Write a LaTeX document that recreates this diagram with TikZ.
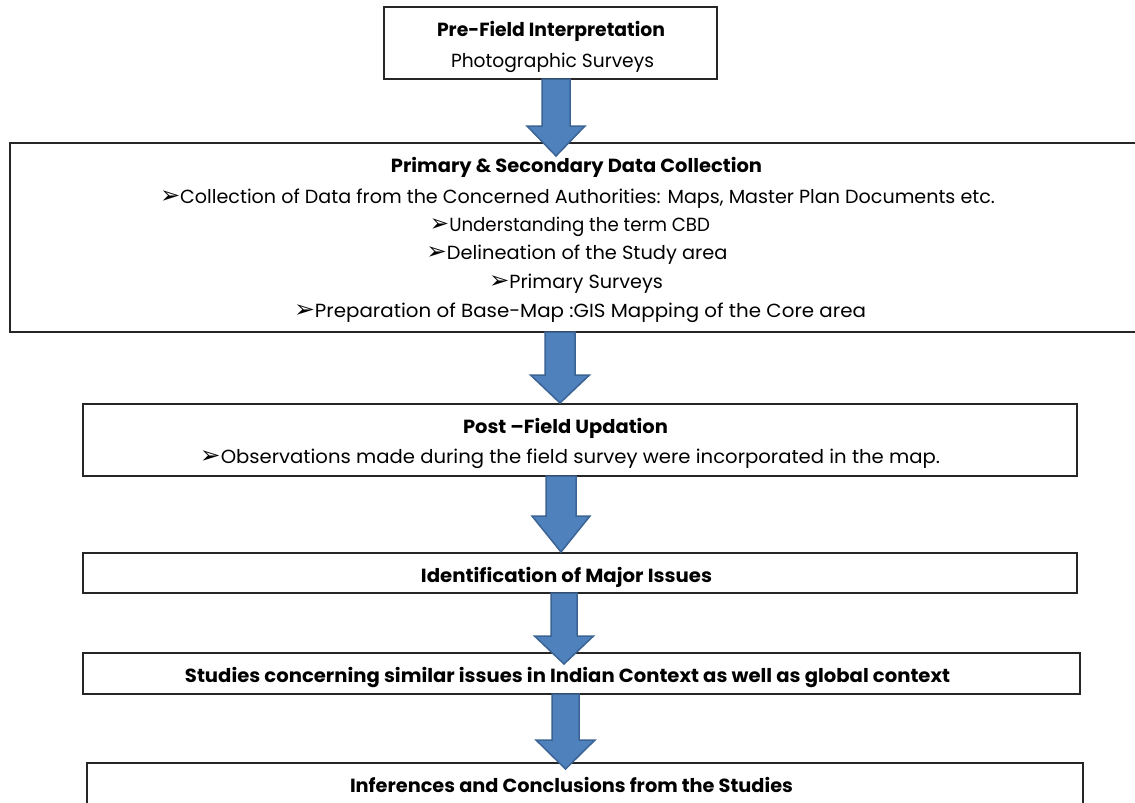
\documentclass[tikz,border=0pt]{standalone}
\usepackage{fontspec}
\usepackage{graphicx}
\setmainfont{Poppins}
\newfontfamily\dingfont{DejaVu Sans}
\usetikzlibrary{calc}
\definecolor{arrowfill}{HTML}{4F81BD}
\definecolor{arrowline}{HTML}{3B6495}
\definecolor{boxline}{HTML}{262626}
\newcommand{\fitw}[2]{\resizebox{#1pt}{\height}{#2}}
\newcommand{\bul}{{\dingfont\fontsize{24}{24}\selectfont\char"27A2}}
% #1 src, #2 dst, #3 cx, #4 half shaft, #5 half head, #6 head start rel. dst top, #7 tip rel. dst top
\newcommand{\blockarr}[7]{%
  \coordinate (tmpx) at (#3,0);
  \draw[barrow] ($(tmpx |- #1.south)+(-#4,0)$) -- ($(tmpx |- #1.south)+(#4,0)$)
    -- ($(tmpx |- #2.north)+(#4,#6)$) -- ($(tmpx |- #2.north)+(#5,#6)$)
    -- ($(tmpx |- #2.north)+(0,#7)$) -- ($(tmpx |- #2.north)+(-#5,#6)$)
    -- ($(tmpx |- #2.north)+(-#4,#6)$) -- cycle;}
\begin{document}
\begin{tikzpicture}[x=1pt,y=-1pt,
  box/.style={draw=boxline,line width=1.4pt,fill=white,anchor=north west,outer sep=0pt,inner sep=0pt},
  txt/.style={anchor=base,inner sep=0pt,font=\fontsize{19}{22}\selectfont},
  btxt/.style={anchor=base,inner sep=0pt,font=\fontsize{19}{22}\selectfont\bfseries},
  barrow/.style={fill=arrowfill,draw=arrowline,line width=1.5pt,line join=miter}]
\useasboundingbox (0,0) rectangle (1135,803);
\clip (0,0) rectangle (1135,803);
\fill[white] (0,0) rectangle (1135,803);
% boxes
\node[box,minimum width=333pt,minimum height=72pt] (b1) at (384,7) {};
\node[box,minimum width=1140pt,minimum height=189pt] (b2) at (10,143) {};
\node[box,minimum width=994pt,minimum height=72pt] (b3) at (83,404) {};
\node[box,minimum width=994pt,minimum height=40pt] (b4) at (83,553) {};
\node[box,minimum width=997pt,minimum height=41pt] (b5) at (83,653) {};
\node[box,minimum width=996pt,minimum height=60pt] (b6) at (87,763) {};
% texts
\node[btxt] (t1a) at (551,37) {\fitw{228}{Pre-Field Interpretation}};
\node[txt] (t1b) at (552.5,67) {\fitw{203}{Photographic Surveys}};
\node[btxt] (t2a) at (576.5,172) {\fitw{371}{Primary \& Secondary Data Collection}};
\node[txt] (t2b) at (577.5,203) {\fitw{835}{\bul Collection of Data from the Concerned Authorities: Maps, Master Plan Documents etc.}};
\node[txt] (t2c) at (570,231) {\fitw{280}{\bul Understanding the term CBD}};
\node[txt] (t2d) at (577,259) {\fitw{301}{\bul Delineation of the Study area}};
\node[txt] (t2e) at (576,288) {\fitw{174}{\bul Primary Surveys}};
\node[txt] (t2f) at (580,317) {\fitw{572}{\bul Preparation of Base-Map :GIS Mapping of the Core area}};
\node[btxt] (t3a) at (565.5,433) {\fitw{205}{Post –Field Updation}};
\node[txt] (t3b) at (570,463) {\fitw{740}{\bul Observations made during the field survey were incorporated in the map.}};
\node[btxt] (t4) at (566.5,582) {\fitw{291}{Identification of Major Issues}};
\node[btxt] (t5) at (567.5,682) {\fitw{765}{Studies concerning similar issues in Indian Context as well as global context}};
\node[btxt] (t6) at (571.5,792) {\fitw{443}{Inferences and Conclusions from the Studies}};
% block arrows
\blockarr{b1}{b2}{556}{14}{29}{-17}{13}
\blockarr{b2}{b3}{560}{15}{29.5}{-29}{-1}
\blockarr{b3}{b4}{561}{15}{29}{-37}{-1}
\blockarr{b4}{b5}{564}{13}{29.5}{-17}{11}
\blockarr{b5}{b6}{565.5}{13.5}{29.5}{-23}{6}
\end{tikzpicture}
\end{document}
